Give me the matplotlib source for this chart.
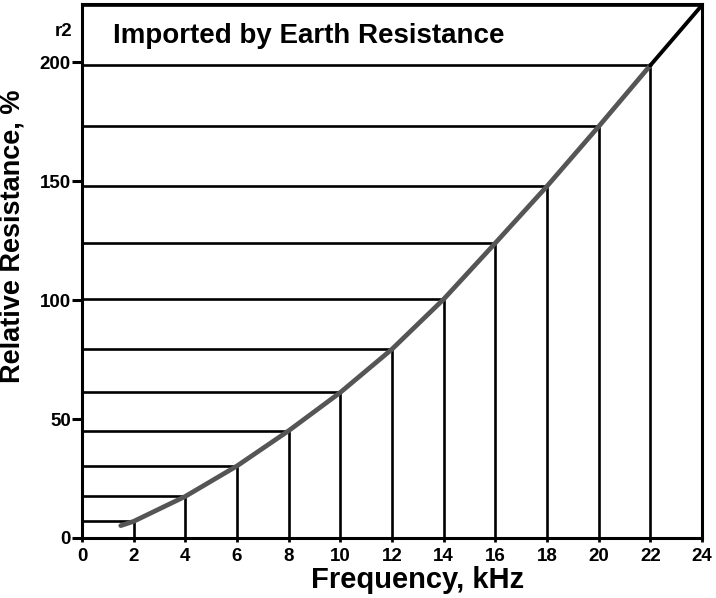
import matplotlib
matplotlib.use("Agg")
import matplotlib.pyplot as plt

plt.rcParams['font.family'] = ['Liberation Sans', 'DejaVu Sans']

# data
freq = [2, 4, 6, 8, 10, 12, 14, 16, 18, 20, 22, 24]
resist = [7.0, 17.5, 30.3, 45.1, 61.2, 79.4, 100.4, 124.0, 147.9, 173.0, 198.7, 224.0]
curve_start_x = 1.5
curve_start_y = 5.2
xticks = list(range(0, 25, 2))
yticks = [0, 50, 100, 150, 200]
title = "Imported by Earth Resistance"
xlabel = "Frequency, kHz"
ylabel = "Relative Resistance, %"
corner_text = "r2"

W, H = 716, 598
fig = plt.figure(figsize=(W/100, H/100), dpi=100)
ax = fig.add_axes([82/W, 60/H, 620/W, 534/H])
ax.set_xlim(0, 24)
ax.set_ylim(0, 224.5)

# grid of projection lines
for x, y in zip(freq, resist):
    ax.plot([0, x], [y, y], color='black', lw=1.9, solid_capstyle='butt', zorder=2)
    ax.plot([x, x], [0, y], color='black', lw=1.9, solid_capstyle='butt', zorder=2)

# curve
cx = [curve_start_x] + freq[:-1]
cy = [curve_start_y] + resist[:-1]
ax.plot(cx, cy, color='#555555', lw=3.4, solid_capstyle='round', zorder=3)
ax.plot(freq[-2:], resist[-2:], color='black', lw=2.8, solid_capstyle='round', zorder=3)

for s in ax.spines.values():
    s.set_linewidth(2.2)
    s.set_color('black')

ax.set_xticks(xticks)
ax.set_yticks(yticks)
ax.tick_params(axis='y', direction='out', length=7, width=2.2, pad=1,
               labelsize=13.5)
ax.tick_params(axis='x', direction='out', length=3, width=2, pad=4,
               labelsize=13.5)
for lab in ax.get_xticklabels() + ax.get_yticklabels():
    lab.set_fontweight('bold')

fig.text(418/W, 1 - 580/H, xlabel, fontsize=21, fontweight='bold',
         ha='center', va='center')
fig.text(13/W, 1 - 236/H, ylabel, fontsize=19.5, fontweight='bold',
         ha='center', va='center', rotation=90)

ax.text(1.2, 211, title, fontsize=20, fontweight='bold', va='center', ha='left')
ax.text(-0.38, 213, corner_text, fontsize=13.5, fontweight='bold', va='center',
        ha='right', clip_on=False)

fig.savefig("out.png", dpi=100, facecolor='white')
